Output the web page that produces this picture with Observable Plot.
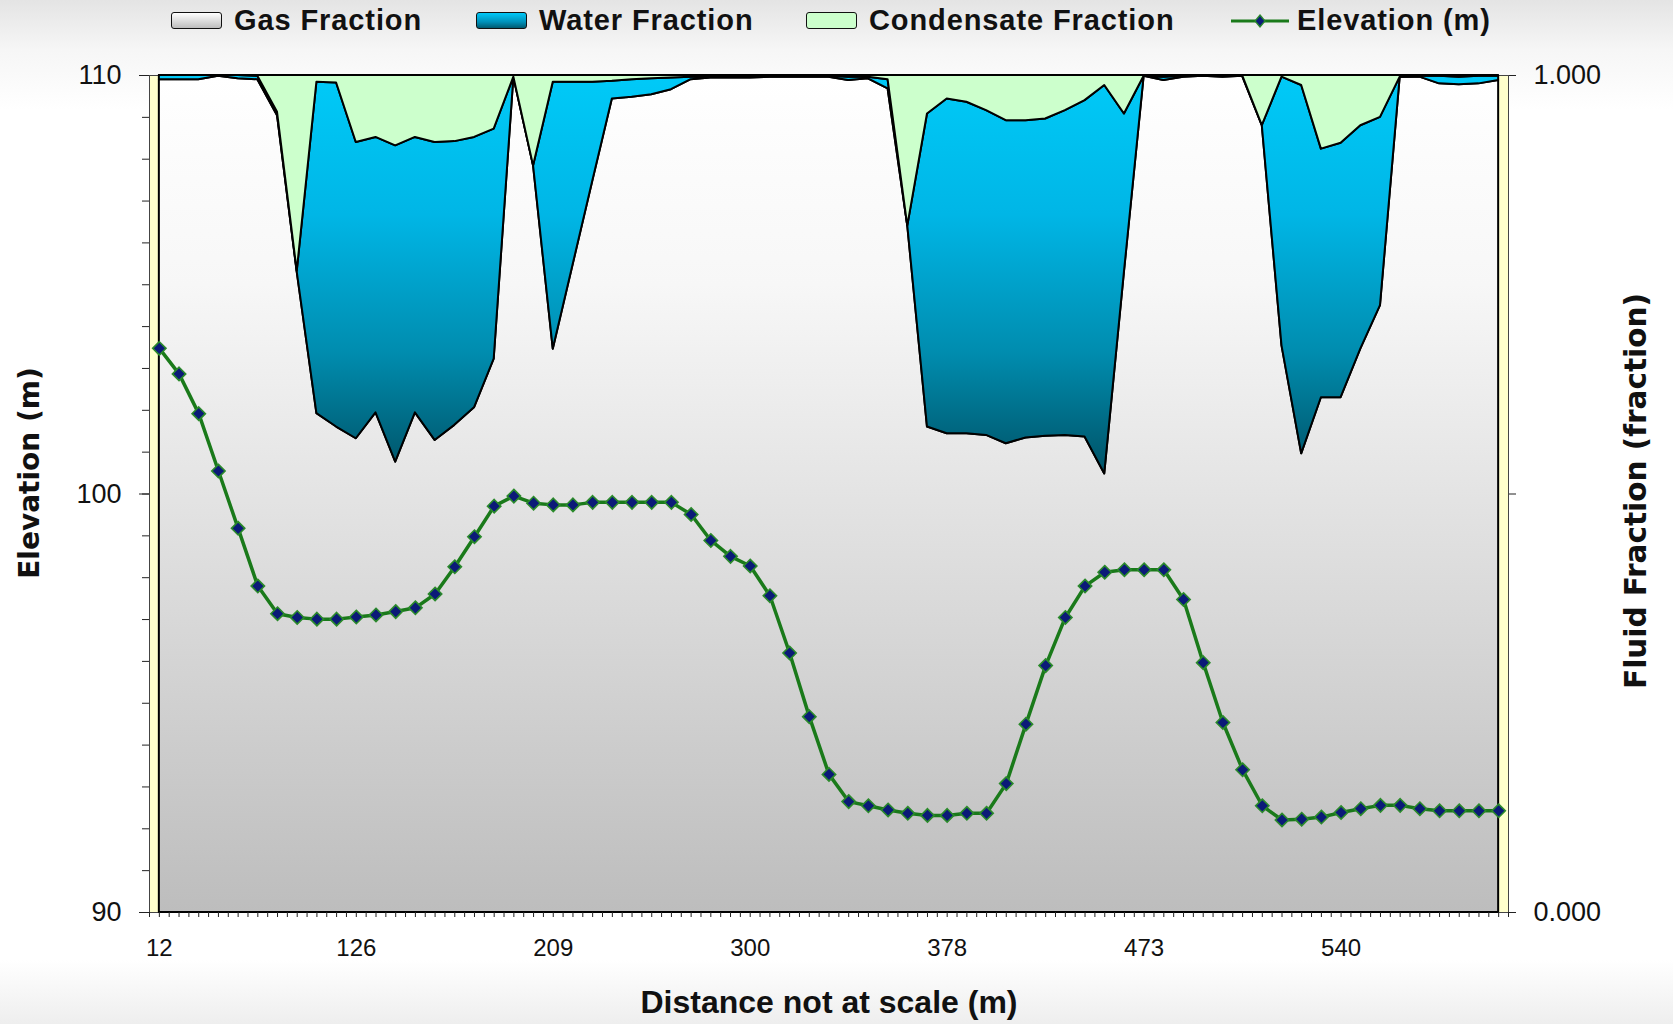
<!DOCTYPE html>
<html><head><meta charset="utf-8">
<script src="https://cdn.jsdelivr.net/npm/d3@7"></script>
<script src="https://cdn.jsdelivr.net/npm/@observablehq/plot@0.6"></script>
<style>
html,body{margin:0;padding:0;}
body{width:1673px;height:1024px;overflow:hidden;
  background:linear-gradient(to bottom,#e4e4e4 0px,#f6f6f6 50px,#ffffff 110px,#ffffff 960px,#eeeeee 1024px);
  font-family:"Liberation Sans",Arial,sans-serif;}
#legend{position:relative;height:44px;width:1673px;}
.item{position:absolute;top:0;height:41px;display:flex;align-items:center;font-weight:bold;font-size:29px;letter-spacing:0.9px;color:#111;white-space:nowrap;}
.sw{width:51px;height:17px;border:1.6px solid #111;border-radius:3px;margin-right:12px;box-sizing:border-box;}
</style></head>
<body>
<div id="legend"></div>
<div id="chart"></div>
<script>
// ---- data ----
const distanceLabels = ["12","126","209","300","378","473","540"];
const labelIndex = [0,10,20,30,40,50,60];

const elevation = [103.48,102.87,101.92,100.55,99.18,97.80,97.14,97.05,97.01,97.01,
  97.06,97.11,97.19,97.28,97.61,98.26,98.98,99.71,99.95,99.78,
  99.74,99.74,99.80,99.80,99.80,99.80,99.80,99.51,98.89,98.51,
  98.28,97.57,96.20,94.68,93.30,92.65,92.55,92.45,92.37,92.32,
  92.32,92.37,92.37,93.08,94.50,95.90,97.05,97.80,98.13,98.19,
  98.19,98.19,97.48,95.97,94.54,93.41,92.55,92.21,92.23,92.28,
  92.39,92.48,92.56,92.56,92.48,92.43,92.43,92.43,92.43];

const gasFraction = [0.995,0.995,0.995,0.999,0.996,0.995,0.952,0.765,0.596,0.580,
  0.566,0.597,0.538,0.597,0.564,0.582,0.603,0.661,0.998,0.892,
  0.673,0.773,0.873,0.972,0.974,0.977,0.983,0.995,0.997,0.997,
  0.997,0.998,0.998,0.998,0.998,0.994,0.996,0.984,0.820,0.580,
  0.572,0.572,0.570,0.560,0.567,0.569,0.570,0.568,0.524,0.765,
  0.999,0.994,0.998,0.999,0.998,0.999,0.940,0.677,0.548,0.615,
  0.615,0.673,0.725,0.998,0.998,0.990,0.989,0.990,0.994];

const waterFraction = [0.005,0.005,0.005,0.001,0.004,0.004,0.004,0.001,0.396,0.411,
  0.354,0.329,0.378,0.329,0.356,0.339,0.323,0.275,0.000,0.000,
  0.319,0.219,0.119,0.021,0.021,0.019,0.014,0.003,0.001,0.001,
  0.001,0.001,0.001,0.001,0.001,0.004,0.002,0.011,0.000,0.374,
  0.400,0.396,0.388,0.386,0.379,0.379,0.388,0.402,0.464,0.189,
  0.000,0.004,0.001,0.000,0.001,0.001,0.000,0.321,0.440,0.297,
  0.304,0.267,0.225,0.000,0.001,0.009,0.009,0.009,0.005];

const condensateFraction = [0.000,0.000,0.000,0.000,0.000,0.001,0.044,0.234,0.008,0.009,
  0.080,0.074,0.084,0.074,0.080,0.079,0.074,0.064,0.002,0.108,
  0.008,0.008,0.008,0.007,0.005,0.004,0.003,0.002,0.002,0.002,
  0.002,0.001,0.001,0.001,0.001,0.002,0.002,0.005,0.180,0.046,
  0.028,0.032,0.042,0.054,0.054,0.052,0.042,0.030,0.012,0.046,
  0.001,0.002,0.001,0.001,0.001,0.000,0.060,0.002,0.012,0.088,
  0.081,0.060,0.050,0.002,0.001,0.001,0.002,0.001,0.001];

const seriesNames = ["Gas Fraction","Water Fraction","Condensate Fraction","Elevation (m)"];
const xTitle = "Distance not at scale (m)";
const yTitleLeft = "Elevation (m)";
const yTitleRight = "Fluid Fraction (fraction)";

// ---- legend ----
const legend = document.getElementById("legend");
const legendLeft = [171, 476, 806, 1231];
const swatchCss = [
  "background:linear-gradient(to bottom,#ffffff,#bdbdbd);",
  "background:linear-gradient(to bottom,#00c8f8,#0090b8 60%,#005a70);",
  "background:#ccffcc;"
];
seriesNames.forEach((name, k) => {
  const it = document.createElement("div");
  it.className = "item";
  it.style.left = legendLeft[k] + "px";
  if (k < 3) {
    const sw = document.createElement("div");
    sw.className = "sw";
    sw.style.cssText += swatchCss[k];
    it.appendChild(sw);
  } else {
    const ns = "http://www.w3.org/2000/svg";
    const s = document.createElementNS(ns, "svg");
    s.setAttribute("width", 58); s.setAttribute("height", 20);
    s.style.marginRight = "8px";
    s.innerHTML = '<line x1="0" y1="10" x2="58" y2="10" stroke="#1a7a1a" stroke-width="3"/>' +
      '<path d="M29,4L34,10L29,16L24,10Z" fill="#0b1a78" stroke="#2b8a2b" stroke-width="1.3"/>';
    it.appendChild(s);
  }
  const t = document.createElement("span");
  t.textContent = name;
  it.appendChild(t);
  legend.appendChild(it);
});

// ---- chart ----
const rows = elevation.map((e, i) => ({
  i, elev: e, gas: gasFraction[i], water: waterFraction[i], cond: condensateFraction[i]
}));
const toFrac = e => (e - 90) / 20;
const minorY = d3.range(0, 21).map(k => k / 20);
const majorY = [0, 0.5, 1];
const halfTicks = d3.range(-1, 138).map(k => k / 2);
const font = "Liberation Sans, Arial, sans-serif";

const chart = Plot.plot({
  width: 1673, height: 980,
  marginTop: 31, marginBottom: 112, marginLeft: 149, marginRight: 165,
  style: {background: "transparent", fontFamily: font, overflow: "visible", color: "#111"},
  x: {type: "linear", domain: [-0.5, 68.5], axis: null, label: null},
  y: {domain: [0, 1], axis: null, label: null},
  marks: [
    Plot.frame({fill: "#ffffcc", stroke: "#444", strokeWidth: 1}),
    Plot.areaY(rows, {x: "i", y1: 0, y2: "gas", fill: "url(#gasGrad)", stroke: "#000", strokeWidth: 2}),
    Plot.areaY(rows, {x: "i", y1: "gas", y2: d => d.gas + d.water, fill: "url(#waterGrad)", stroke: "#000", strokeWidth: 2}),
    Plot.areaY(rows, {x: "i", y1: d => d.gas + d.water, y2: d => d.gas + d.water + d.cond, fill: "#ccffcc", stroke: "#000", strokeWidth: 2}),
    Plot.line(rows, {x: "i", y: d => toFrac(d.elev), stroke: "#1a7a1a", strokeWidth: 3.5}),
    Plot.dot(rows, {x: "i", y: d => toFrac(d.elev), symbol: "diamond2", r: 6, fill: "#0b1a78", stroke: "#2b8a2b", strokeWidth: 1.6}),
    // bottom axis
    Plot.axisX(halfTicks, {tickSize: 5, tickFormat: () => "", stroke: "#222", label: null}),
    Plot.axisX(labelIndex, {tickSize: 0, tickPadding: 26, fontSize: 24, fill: "#111", label: null,
      tickFormat: d => distanceLabels[labelIndex.indexOf(d)]}),
    // left axis
    Plot.axisY(minorY, {anchor: "left", tickSize: 7, tickFormat: () => "", stroke: "#222", label: null}),
    Plot.axisY(majorY, {anchor: "left", tickSize: 10, tickPadding: 18, fontSize: 27, fill: "#111", stroke: "#222", label: null,
      tickFormat: d => String(90 + d * 20)}),
    // right axis
    Plot.axisY(majorY, {anchor: "right", tickSize: 7, tickPadding: 18, fontSize: 27, fill: "#111", stroke: "#222", label: null,
      tickFormat: d => d === 0.5 ? "" : d.toFixed(3)}),
    // titles
    Plot.text([xTitle], {frameAnchor: "bottom", dy: 100, fontSize: 32, fontWeight: "bold", fill: "#111", letterSpacing: "0.5px"}),
    Plot.text([yTitleLeft], {frameAnchor: "left", textAnchor: "middle", dx: -119, dy: -21, rotate: -90, fontSize: 28, fontWeight: "bold", fill: "#111",
      fontFamily: "DejaVu Sans, Verdana, sans-serif", letterSpacing: "0.5px"}),
    Plot.text([yTitleRight], {frameAnchor: "right", textAnchor: "middle", dx: 128, dy: -3, rotate: -90, fontSize: 29.5, fontWeight: "bold", fill: "#111",
      fontFamily: "DejaVu Sans, Verdana, sans-serif", letterSpacing: "0.5px"})
  ]
});

// gradients
const ns = "http://www.w3.org/2000/svg";
const defs = document.createElementNS(ns, "defs");
defs.innerHTML =
  '<linearGradient id="gasGrad" gradientUnits="userSpaceOnUse" x1="0" y1="31" x2="0" y2="868">' +
  '<stop offset="0" stop-color="#ffffff"/><stop offset="0.25" stop-color="#f7f7f7"/><stop offset="1" stop-color="#bdbdbd"/></linearGradient>' +
  '<linearGradient id="waterGrad" x1="0" y1="0" x2="0" y2="1">' +
  '<stop offset="0" stop-color="#00caf8"/><stop offset="0.35" stop-color="#00b6e6"/>' +
  '<stop offset="0.7" stop-color="#008cae"/><stop offset="1" stop-color="#005266"/></linearGradient>';
chart.insertBefore(defs, chart.firstChild);
document.getElementById("chart").appendChild(chart);
</script>
</body></html>
